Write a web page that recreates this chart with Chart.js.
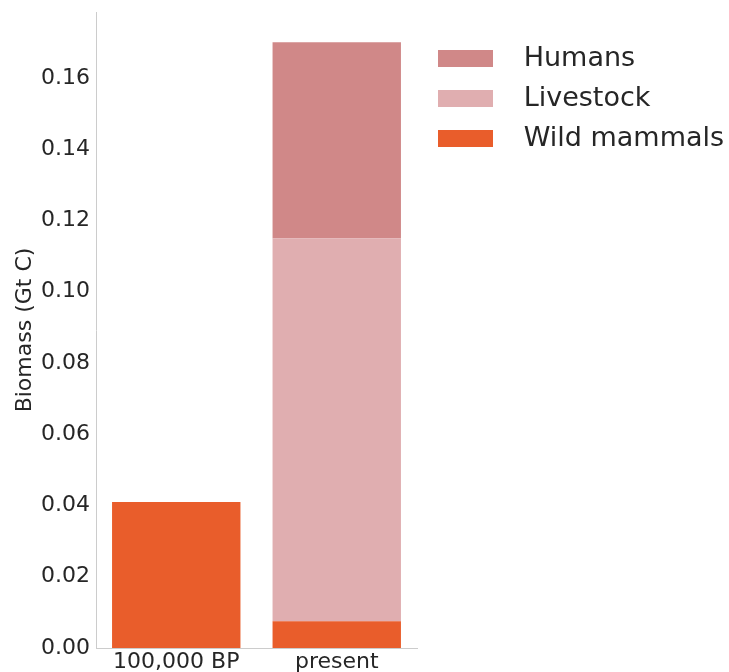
<!DOCTYPE html>
<html>
<head>
<meta charset="utf-8">
<title>Biomass of mammals</title>
<script src="https://cdn.jsdelivr.net/npm/chart.js@4.4.1/dist/chart.umd.min.js"></script>
<style>
  html, body { margin: 0; padding: 0; background: #fff; }
  #wrap { width: 729px; height: 672px; }
</style>
</head>
<body>
<div id="wrap"><canvas id="biomassChart" width="729" height="672"></canvas></div>
<script>
// values, in Gt C
const periods     = ['100,000 BP', 'present'];
const wildMammals = [0.041, 0.0075];
const livestock   = [null, 0.1075];
const humans      = [null, 0.055];
const yTicks      = [0, 0.02, 0.04, 0.06, 0.08, 0.10, 0.12, 0.14, 0.16];
const yMax        = 0.1785;

const TEXT = '#262626';
const SPINE = '#cccccc';
const LEGEND_GAP = 8;
Chart.defaults.font.family = 'DejaVu Sans';
Chart.defaults.color = TEXT;

const cfg = {
  type: 'bar',
  data: {
    labels: periods,
    datasets: [
      { label: 'Wild mammals', data: wildMammals, backgroundColor: '#e95d2b' },
      { label: 'Livestock',    data: livestock,   backgroundColor: '#e0aeb0' },
      { label: 'Humans',       data: humans,      backgroundColor: '#d08888' }
    ]
  },
  options: {
    responsive: false,
    devicePixelRatio: 1,
    animation: false,
    categoryPercentage: 1.0,
    barPercentage: 0.8,
    layout: { padding: { top: 12, left: 0, right: 0, bottom: 0 } },
    plugins: {
      tooltip: { enabled: false },
      legend: {
        position: 'right',
        align: 'start',
        reverse: true,
        maxWidth: 729 - 417 - LEGEND_GAP,
        // empty title only pushes the rows down a little
        title: { display: true, text: '', font: { size: 10 }, padding: 4 },
        labels: {
          boxWidth: 55,
          boxHeight: 17,
          padding: 13,
          color: TEXT,
          font: { size: 27 },
          generateLabels: chart =>
            Chart.defaults.plugins.legend.labels.generateLabels(chart)
              .map(l => Object.assign(l, { text: '  ' + l.text, lineWidth: 0 }))
        }
      }
    },
    scales: {
      x: {
        stacked: true,
        grid: { display: false, drawTicks: false },
        border: { display: true, color: SPINE, width: 1 },
        ticks: { color: TEXT, font: { size: 22 }, padding: 1, maxRotation: 0 },
        afterFit: s => { s.height = 24; s.paddingLeft = 0; s.paddingRight = 0; }
      },
      y: {
        stacked: true,
        min: 0,
        max: yMax,
        grid: { display: false, drawTicks: false },
        border: { display: true, color: SPINE, width: 1 },
        ticks: {
          color: TEXT,
          font: { size: 22 },
          padding: 6,
          callback: v => Number(v).toFixed(2)
        },
        afterBuildTicks: s => { s.ticks = yTicks.map(v => ({ value: v })); },
        title: {
          display: true,
          text: 'Biomass (Gt C)',
          color: TEXT,
          font: { size: 22 },
          padding: { top: 12, bottom: 0 }
        },
        afterFit: s => { s.width = 96; s.paddingTop = 0; s.paddingBottom = 0; }
      },
      // blank strip between the plot and the legend
      gap: {
        type: 'linear',
        position: 'right',
        grid: { display: false, drawTicks: false },
        border: { display: false },
        ticks: { display: false },
        afterFit: s => { s.width = LEGEND_GAP; s.paddingTop = 0; s.paddingBottom = 0; }
      }
    }
  }
};

const chart = new Chart(document.getElementById('biomassChart').getContext('2d'), cfg);

// keep the plot's right edge where the reference has it, legend after it
const AXIS_RIGHT = 417;
chart.config.options.layout.padding.right =
  Math.max(0, 729 - AXIS_RIGHT - LEGEND_GAP - chart.legend.width);
chart.update();
</script>
</body>
</html>
